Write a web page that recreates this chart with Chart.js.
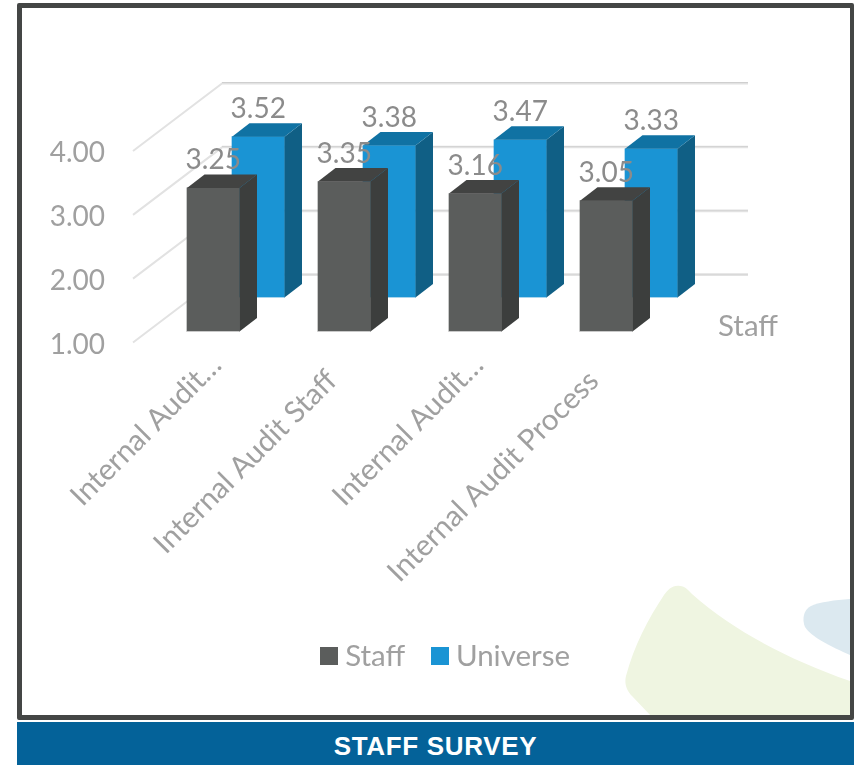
<!DOCTYPE html>
<html>
<head>
<meta charset="utf-8">
<title>Staff Survey</title>
<script src="https://cdn.jsdelivr.net/npm/chart.js@4/dist/chart.umd.min.js"></script>
<style>
  html, body { margin: 0; padding: 0; background: #fff; }
  body { position: relative; width: 854px; height: 765px; overflow: hidden; }
  #art { position: absolute; left: 0; top: 0; }
  #frame { position: absolute; left: 17px; top: 3px; width: 837px; height: 717px; box-sizing: border-box;
           border: 5px solid #444645; border-right-width: 4px; border-radius: 2px; }
  #banner { position: absolute; left: 17px; top: 722px; width: 837px; height: 43px; background: #046299; color: #fff;
            font: bold 26px "Liberation Sans", Arial, sans-serif; line-height: 48px; text-align: center; letter-spacing: 0.67px; }
  canvas { position: absolute; left: 0; top: 0; }
</style>
</head>
<body>
<svg id="art" width="854" height="765">
  <path d="M680 586 C672 585 668 590 664 595 C648 619 634 646 626 676 C624 684 627 691 632 696 L651 716 L850 716 L850 681 C790 660 735 632 692 594 C688 590 685 586 680 586 Z" fill="#eff5e1"/>
  <path d="M850 599 C835 600 820 602 811 606 C803 610 802 620 805 627 C811 637 832 647 850 655 Z" fill="#dce9f0"/>
</svg>
<div id="frame"></div>
<div id="banner">STAFF SURVEY</div>
<canvas id="chart" width="854" height="765"></canvas>
<script>
// Survey scores per audit area
const categories = ["Internal Audit…", "Internal Audit Staff", "Internal Audit…", "Internal Audit Process"];
const staffValues = [3.25, 3.35, 3.16, 3.05];
const universeValues = [3.52, 3.38, 3.47, 3.33];
const yTicks = [1, 2, 3, 4];

const FONT = "Lato, Carlito, sans-serif";
const NUM_SIZE = 28;
const WORD_SIZE = 29.5;
const TEXT = "#a0a0a0";
const DATA_TEXT = "#8b8b8b";

// Face colours and placement of each series inside the perspective box
const faces = {
  Staff:    { front: "#5b5d5c", side: "#3c3e3d", top: "#424342", edge: "#c9c9c9", dx: 14.75, dy: -11 },
  Universe: { front: "#1a94d4", side: "#105f85", top: "#1072a3", edge: "#a9d5ec", dx: 59.75, dy: -45 }
};
const BAR_DEPTH = { x: 17.5, y: -13.5 };
const WALL_DEPTH = { x: 89, y: -68 };

// Solid legend swatch; its size is independent of the text gap
function swatch(color) {
  const c = document.createElement("canvas");
  c.width = 18; c.height = 18;
  const g = c.getContext("2d");
  g.fillStyle = color;
  g.fillRect(0, 0, 18, 18);
  return c;
}

// Floor lines running back from the value axis, then along the back wall
const perspectiveGrid = {
  id: "perspectiveGrid",
  beforeDatasetsDraw(chart) {
    const { ctx, chartArea, scales: { y } } = chart;
    ctx.save();
    yTicks.forEach(v => {
      const py = y.getPixelForValue(v);
      const backX = chartArea.left + WALL_DEPTH.x;
      const backY = py + WALL_DEPTH.y;
      const wallEnd = chartArea.right + 91;
      ctx.lineWidth = 2;
      ctx.strokeStyle = "#e2e2e2";
      ctx.beginPath();
      ctx.moveTo(chartArea.left, py);
      ctx.lineTo(backX, backY + 0.5);
      ctx.lineTo(wallEnd, backY + 0.5);
      ctx.stroke();
      ctx.lineWidth = 1;
      ctx.strokeStyle = "#cfcfcf";
      ctx.beginPath();
      ctx.moveTo(backX, backY - 0.5);
      ctx.lineTo(wallEnd, backY - 0.5);
      ctx.stroke();
    });
    ctx.restore();
  }
};

// Moves each series to its row in depth and adds the top and side faces
const extrudedBars = {
  id: "extrudedBars",
  beforeDatasetDraw(chart, args) {
    const f = faces[chart.data.datasets[args.index].label];
    chart.ctx.save();
    chart.ctx.translate(f.dx, f.dy);
  },
  afterDatasetDraw(chart, args) {
    const { ctx } = chart;
    const f = faces[chart.data.datasets[args.index].label];
    args.meta.data.forEach(bar => {
      const l = bar.x - bar.width / 2, r = bar.x + bar.width / 2;
      const t = bar.y, b = bar.base;
      ctx.fillStyle = f.side;
      ctx.beginPath();
      ctx.moveTo(r, t);
      ctx.lineTo(r + BAR_DEPTH.x, t + BAR_DEPTH.y);
      ctx.lineTo(r + BAR_DEPTH.x, b + BAR_DEPTH.y);
      ctx.lineTo(r, b);
      ctx.closePath();
      ctx.fill();
      ctx.fillStyle = f.top;
      ctx.beginPath();
      ctx.moveTo(l, t);
      ctx.lineTo(l + BAR_DEPTH.x, t + BAR_DEPTH.y);
      ctx.lineTo(r + BAR_DEPTH.x, t + BAR_DEPTH.y);
      ctx.lineTo(r, t);
      ctx.closePath();
      ctx.fill();
      ctx.strokeStyle = f.edge;
      ctx.lineWidth = 1;
      ctx.beginPath();
      ctx.moveTo(l, b);
      ctx.lineTo(r, b);
      ctx.stroke();
    });
    ctx.restore();
  },
  afterDatasetsDraw(chart) {
    const { ctx, chartArea } = chart;
    ctx.save();
    ctx.font = NUM_SIZE + "px " + FONT;
    ctx.textAlign = "center";
    ctx.textBaseline = "middle";
    ctx.fillStyle = DATA_TEXT;
    chart.data.datasets.forEach((ds, i) => {
      const f = faces[ds.label];
      chart.getDatasetMeta(i).data.forEach((bar, j) => {
        ctx.fillText(ds.data[j].toFixed(2), bar.x + f.dx, bar.y + f.dy - 28);
      });
    });
    // Name of the depth axis, right of the floor
    ctx.textAlign = "left";
    ctx.font = WORD_SIZE + "px " + FONT;
    ctx.fillStyle = TEXT;
    ctx.fillText("Staff", chartArea.right + 61, 326);
    ctx.restore();
  }
};

new Chart(document.getElementById("chart"), {
  type: "bar",
  data: {
    labels: categories,
    datasets: [
      { label: "Staff", data: staffValues, backgroundColor: faces.Staff.front, order: 0 },
      { label: "Universe", data: universeValues, backgroundColor: faces.Universe.front, order: 1 }
    ]
  },
  options: {
    responsive: false,
    animation: false,
    layout: { padding: { left: 43.5, top: 151, bottom: 84, right: 0 } },
    datasets: { bar: { grouped: false, barThickness: 52.5, borderWidth: 0, base: 1, clip: false } },
    scales: {
      x: {
        type: "category",
        offset: true,
        grid: { display: false },
        border: { display: false },
        ticks: {
          color: TEXT, font: { family: FONT, size: WORD_SIZE }, minRotation: 45, maxRotation: 45, autoSkip: false,
          padding: -3, labelOffset: 18,
          // Shortened names sit closer to the axis than full ones
          callback(value) {
            const name = this.getLabelForValue(value);
            return name.endsWith("…") ? name : name + "\u00a0\u00a0\u00a0";
          }
        },
        afterFit(s) { s.height = 266; }
      },
      y: {
        min: 1, max: 4,
        position: "left",
        grid: { display: false },
        border: { display: false },
        ticks: {
          color: TEXT, font: { family: FONT, size: NUM_SIZE }, stepSize: 1, padding: 20, labelOffset: 2,
          callback: v => yTicks.includes(v) ? v.toFixed(2) : ""
        },
        afterFit(s) { s.width = 89.5; }
      },
      // Reserves the space to the right of the floor
      rightGap: {
        type: "linear",
        position: "right",
        grid: { display: false },
        border: { display: false },
        ticks: { display: false },
        afterFit(s) { s.width = 197; }
      }
    },
    plugins: {
      tooltip: { enabled: false },
      legend: {
        position: "bottom",
        labels: {
          color: TEXT,
          font: { family: FONT, size: WORD_SIZE },
          usePointStyle: true,
          pointStyleWidth: 3,
          padding: 33,
          generateLabels(chart) {
            return Chart.defaults.plugins.legend.labels.generateLabels(chart).map(item => {
              item.pointStyle = swatch(chart.data.datasets[item.datasetIndex].backgroundColor);
              return item;
            });
          }
        }
      }
    }
  },
  plugins: [perspectiveGrid, extrudedBars]
});
</script>
</body>
</html>
